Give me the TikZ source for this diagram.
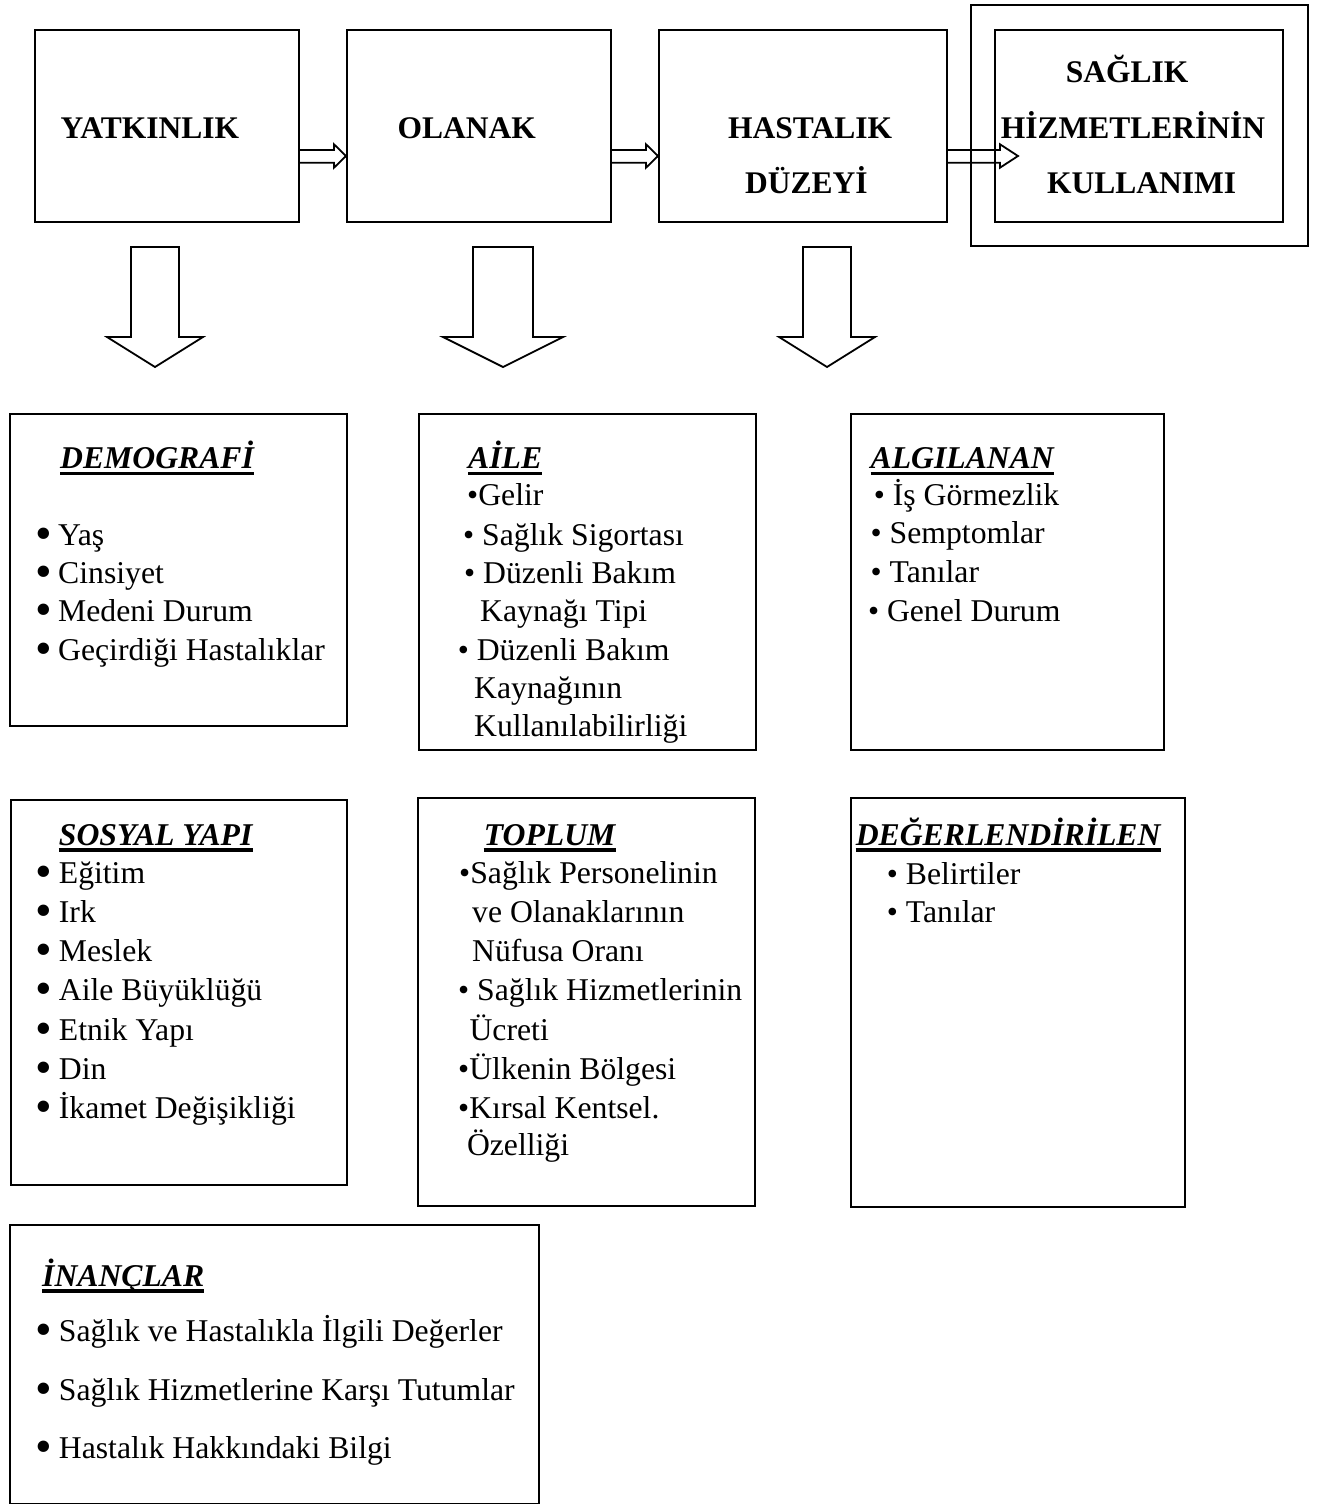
\documentclass[tikz,border=0pt]{standalone}
\usepackage{fontspec}
\setmainfont{Liberation Serif}
\usepackage{graphicx}
\usetikzlibrary{calc}
\newcommand\bb{\makebox[23pt][l]{\smash{\raisebox{-4pt}{\scalebox{1.5}{•}}}}}
\newcommand\ulin[1]{\draw[ul] ($(#1.base west)+(0,5)$) -- ($(#1.base east)+(0,5)$);}
\newcommand\darr[3]{\draw[barrow] ($(#1)+(-#2,0)$) -- ($(#1)+(#2,0)$) -- ($(#1)+(#2,90)$) -- ($(#1)+(#3,90)$) -- ($(#1)+(0,120)$) -- ($(#1)+(-#3,90)$) -- ($(#1)+(-#2,90)$) -- cycle;}
\begin{document}
\begin{tikzpicture}[x=1pt,y=-1pt,
 box/.style={draw, line width=2pt, inner sep=0, anchor=north west},
 tx/.style={inner sep=0, anchor=base west, font=\fontsize{31.7}{38}\selectfont},
 hd/.style={inner sep=0, anchor=base west, font=\fontsize{31.7}{38}\selectfont\bfseries\itshape},
 tt/.style={inner sep=0, anchor=base west, font=\fontsize{31.5}{38}\selectfont\bfseries},
 ul/.style={line width=3.5pt},
 barrow/.style={draw, line width=1.8pt, line join=miter}]
\fill[white] (0,0) rectangle (1319,1504);
\useasboundingbox (0,0) rectangle (1319,1504);

% top row
\node[box, minimum width=264pt, minimum height=192pt] (yat) at (34,29) {};
\node[box, minimum width=264pt, minimum height=192pt] (ola) at (346,29) {};
\node[box, minimum width=288pt, minimum height=192pt] (has) at (658,29) {};
\node[box, minimum width=337pt, minimum height=241pt] (outer) at (970,4) {};
\node[box, minimum width=288pt, minimum height=192pt] (sag) at (994,29) {};

\node[tt] (tyat) at (60.3,138.3) {YATKINLIK};
\node[tt] (tola) at (397.3,138.3) {OLANAK};
\node[tt] (thas1) at (728,138.3) {HASTALIK};
\node[tt] (thas2) at (745,193.3) {DÜZEYİ};
\node[tt] (tsag1) at (1065.6,82.7) {SAĞLIK};
\node[tt] (tsag2) at (1000.7,138.3) {HİZMETLERİNİN};
\node[tt] (tsag3) at (1047,193.3) {KULLANIMI};

% right block arrows
\draw[barrow] ($(yat.east)+(0,24)$) -- ($(ola.west)+(-12,24)$) -- ($(ola.west)+(-12,18.3)$) -- ($(ola.west)+(0,30)$) -- ($(ola.west)+(-12,41.7)$) -- ($(ola.west)+(-12,36.7)$) -- ($(yat.east)+(0,36.7)$);
\draw[barrow] ($(ola.east)+(0,24)$) -- ($(has.west)+(-12,24)$) -- ($(has.west)+(-12,18.3)$) -- ($(has.west)+(0,30)$) -- ($(has.west)+(-12,41.7)$) -- ($(has.west)+(-12,36.7)$) -- ($(ola.east)+(0,36.7)$);
\coordinate (tip3) at ($(sag.west)+(24,30)$);
\draw[barrow] ($(has.east)+(0,24)$) -- ($(tip3)+(-18,-6)$) -- ($(tip3)+(-18,-11.7)$) -- (tip3) -- ($(tip3)+(-18,11.7)$) -- ($(tip3)+(-18,6.7)$) -- ($(has.east)+(0,36.7)$);

% down block arrows
\coordinate (d1) at ($(yat.south)+(-12,24)$);
\coordinate (d2) at ($(ola.south)+(24,24)$);
\coordinate (d3) at ($(has.south)+(24,24)$);
\darr{d1}{24}{48}
\darr{d2}{30}{60}
\darr{d3}{24}{48}

% DEMOGRAFI
\node[box, minimum width=337pt, minimum height=312pt] (dem) at (9,413) {};
\node[hd] (demh) at (60,468.3) {DEMOGRAFİ};
\ulin{demh}
\node[tx] (dem1) at (35,545) {\bb Yaş};
\node[tx] (dem2) at (35,583.3) {\bb Cinsiyet};
\node[tx] (dem3) at (35,621.7) {\bb Medeni Durum};
\node[tx] (dem4) at (35,660) {\bb Geçirdiği Hastalıklar};

% AILE
\node[box, minimum width=337pt, minimum height=336pt] (aile) at (417.5,413) {};
\node[hd] (aileh) at (468,468.3) {AİLE\hspace{16pt}};
\ulin{aileh}
\node[tx] (ai1) at (467,505.5) {•Gelir};
\node[tx] (ai2) at (463,545) {• Sağlık Sigortası};
\node[tx] (ai3) at (464,583.3) {• Düzenli Bakım};
\node[tx] (ai4) at (480,621.7) {Kaynağı Tipi};
\node[tx] (ai5) at (457.6,660) {• Düzenli Bakım};
\node[tx] (ai6) at (474,698.3) {Kaynağının};
\node[tx] (ai7) at (474,736.7) {Kullanılabilirliği};

% ALGILANAN
\node[box, minimum width=313pt, minimum height=336pt] (alg) at (850,413) {};
\node[hd] (algh) at (870.5,468.3) {ALGILANAN};
\ulin{algh}
\node[tx] (al1) at (873.7,505) {• İş Görmezlik};
\node[tx] (al2) at (870.5,543) {• Semptomlar};
\node[tx] (al3) at (870.5,582.7) {• Tanılar};
\node[tx] (al4) at (867.8,621.7) {• Genel Durum};

% SOSYAL YAPI
\node[box, minimum width=336pt, minimum height=385pt] (sos) at (10,799) {};
\node[hd] (sosh) at (58.7,845) {SOSYAL YAPI\hspace{9pt}};
\ulin{sosh}
\node[tx] (so1) at (35.7,883.3) {\bb Eğitim};
\node[tx] (so2) at (35.7,922.7) {\bb Irk};
\node[tx] (so3) at (35.7,961.7) {\bb Meslek};
\node[tx] (so4) at (35.7,1000.7) {\bb Aile Büyüklüğü};
\node[tx] (so5) at (35.7,1040) {\bb Etnik Yapı};
\node[tx] (so6) at (35.7,1079) {\bb Din};
\node[tx] (so7) at (35.7,1118.3) {\bb İkamet Değişikliği};

% TOPLUM
\node[box, minimum width=337pt, minimum height=408pt] (top) at (417.3,797) {};
\node[hd] (toph) at (483.7,845) {TOPLUM\hspace{22pt}};
\ulin{toph}
\node[tx] (to1) at (459,883.3) {•Sağlık Personelinin};
\node[tx] (to2) at (472,922.7) {ve Olanaklarının};
\node[tx] (to3) at (472,961.7) {Nüfusa Oranı};
\node[tx] (to4) at (458,1000.7) {• Sağlık Hizmetlerinin};
\node[tx] (to5) at (469.4,1040) {Ücreti};
\node[tx] (to6) at (458,1079) {•Ülkenin Bölgesi};
\node[tx] (to7) at (458,1118.3) {•Kırsal Kentsel.};
\node[tx] (to8) at (466.8,1155) {Özelliği};

% DEGERLENDIRILEN
\node[box, minimum width=334pt, minimum height=409pt] (deg) at (850,797) {};
\node[hd] (degh) at (855.6,845) {DEĞERLENDİRİLEN};
\ulin{degh}
\node[tx] (de1) at (886.7,884) {• Belirtiler};
\node[tx] (de2) at (886.7,922.7) {• Tanılar};

% INANCLAR
\node[box, minimum width=529pt, minimum height=279pt] (ina) at (9,1224) {};
\node[hd] (inah) at (42,1286) {İNANÇLAR};
\ulin{inah}
\node[tx] (in1) at (35.7,1341.7) {\bb Sağlık ve Hastalıkla İlgili Değerler};
\node[tx] (in2) at (35.7,1400) {\bb Sağlık Hizmetlerine Karşı Tutumlar};
\node[tx] (in3) at (35.7,1458.3) {\bb Hastalık Hakkındaki Bilgi};
\end{tikzpicture}
\end{document}
